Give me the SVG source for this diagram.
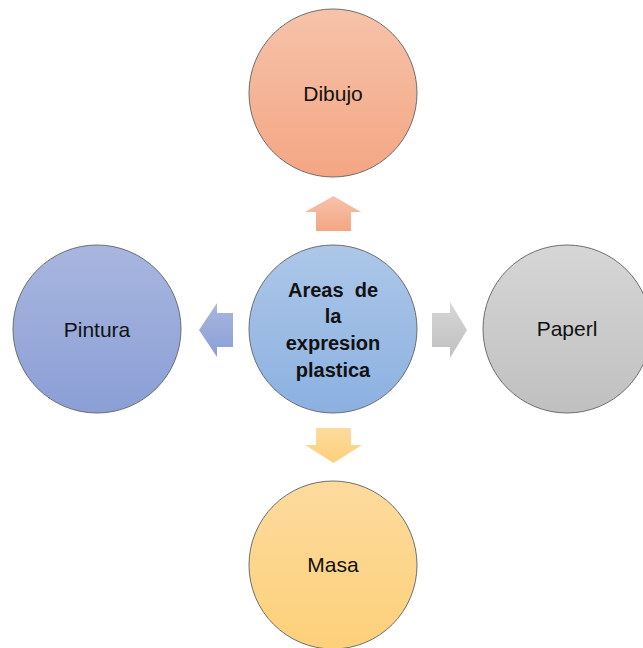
<svg xmlns="http://www.w3.org/2000/svg" width="643" height="648" viewBox="0 0 643 648">
<style>
.c{stroke:#6e6e6e;stroke-width:1}
.t{font-family:"Liberation Sans",Arial,sans-serif;font-size:21px;fill:#111;text-anchor:middle}
.b{font-family:"Liberation Sans",Arial,sans-serif;font-size:20px;font-weight:bold;fill:#111;text-anchor:middle;white-space:pre}
</style>
<defs>
<linearGradient id="gOr" x1="0" y1="0" x2="0" y2="1"><stop offset="0" stop-color="#f6c3aa"/><stop offset="1" stop-color="#f4a683"/></linearGradient>
<linearGradient id="gBl" x1="0" y1="0" x2="0" y2="1"><stop offset="0" stop-color="#adc7e8"/><stop offset="1" stop-color="#8bb1e1"/></linearGradient>
<linearGradient id="gGr" x1="0" y1="0" x2="0" y2="1"><stop offset="0" stop-color="#d6d6d6"/><stop offset="1" stop-color="#c0c0c0"/></linearGradient>
<linearGradient id="gPu" x1="0" y1="0" x2="0" y2="1"><stop offset="0" stop-color="#a8b6df"/><stop offset="1" stop-color="#8b9fd6"/></linearGradient>
<linearGradient id="gYe" x1="0" y1="0" x2="0" y2="1"><stop offset="0" stop-color="#fddb9e"/><stop offset="1" stop-color="#fdd07a"/></linearGradient>
</defs>
<g id="connectors">
<polygon points="333.5,196 361,212 351,212 351,231 316,231 316,212 305,212" fill="url(#gOr)"/>
<polygon points="316,428 351,428 351,445 362,445 333.5,463 305,445 316,445" fill="url(#gYe)"/>
<polygon points="432,313 450,313 450,302 467,330 450,358 450,347 432,347" fill="url(#gGr)"/>
<polygon points="233,313 217,313 217,303 199,330 217,357 217,347 233,347" fill="url(#gPu)"/>
</g>
<g id="dibujo">
<circle class="c" cx="333" cy="93" r="84" fill="url(#gOr)"/>
<text class="t" x="333" y="101">Dibujo</text>
</g>
<g id="center">
<circle class="c" cx="333" cy="329" r="84" fill="url(#gBl)"/>
<text class="b" x="333" y="297">Areas  de</text>
<text class="b" x="333" y="323">la</text>
<text class="b" x="333" y="350">expresion</text>
<text class="b" x="333" y="377">plastica</text>
</g>
<g id="paperl">
<circle class="c" cx="567" cy="329" r="84" fill="url(#gGr)"/>
<text class="t" x="567" y="336">Paperl</text>
</g>
<g id="pintura">
<circle class="c" cx="97" cy="329" r="84" fill="url(#gPu)"/>
<text class="t" x="97" y="337">Pintura</text>
</g>
<g id="masa">
<circle class="c" cx="333" cy="565" r="84" fill="url(#gYe)"/>
<text class="t" x="333" y="572">Masa</text>
</g>
</svg>
